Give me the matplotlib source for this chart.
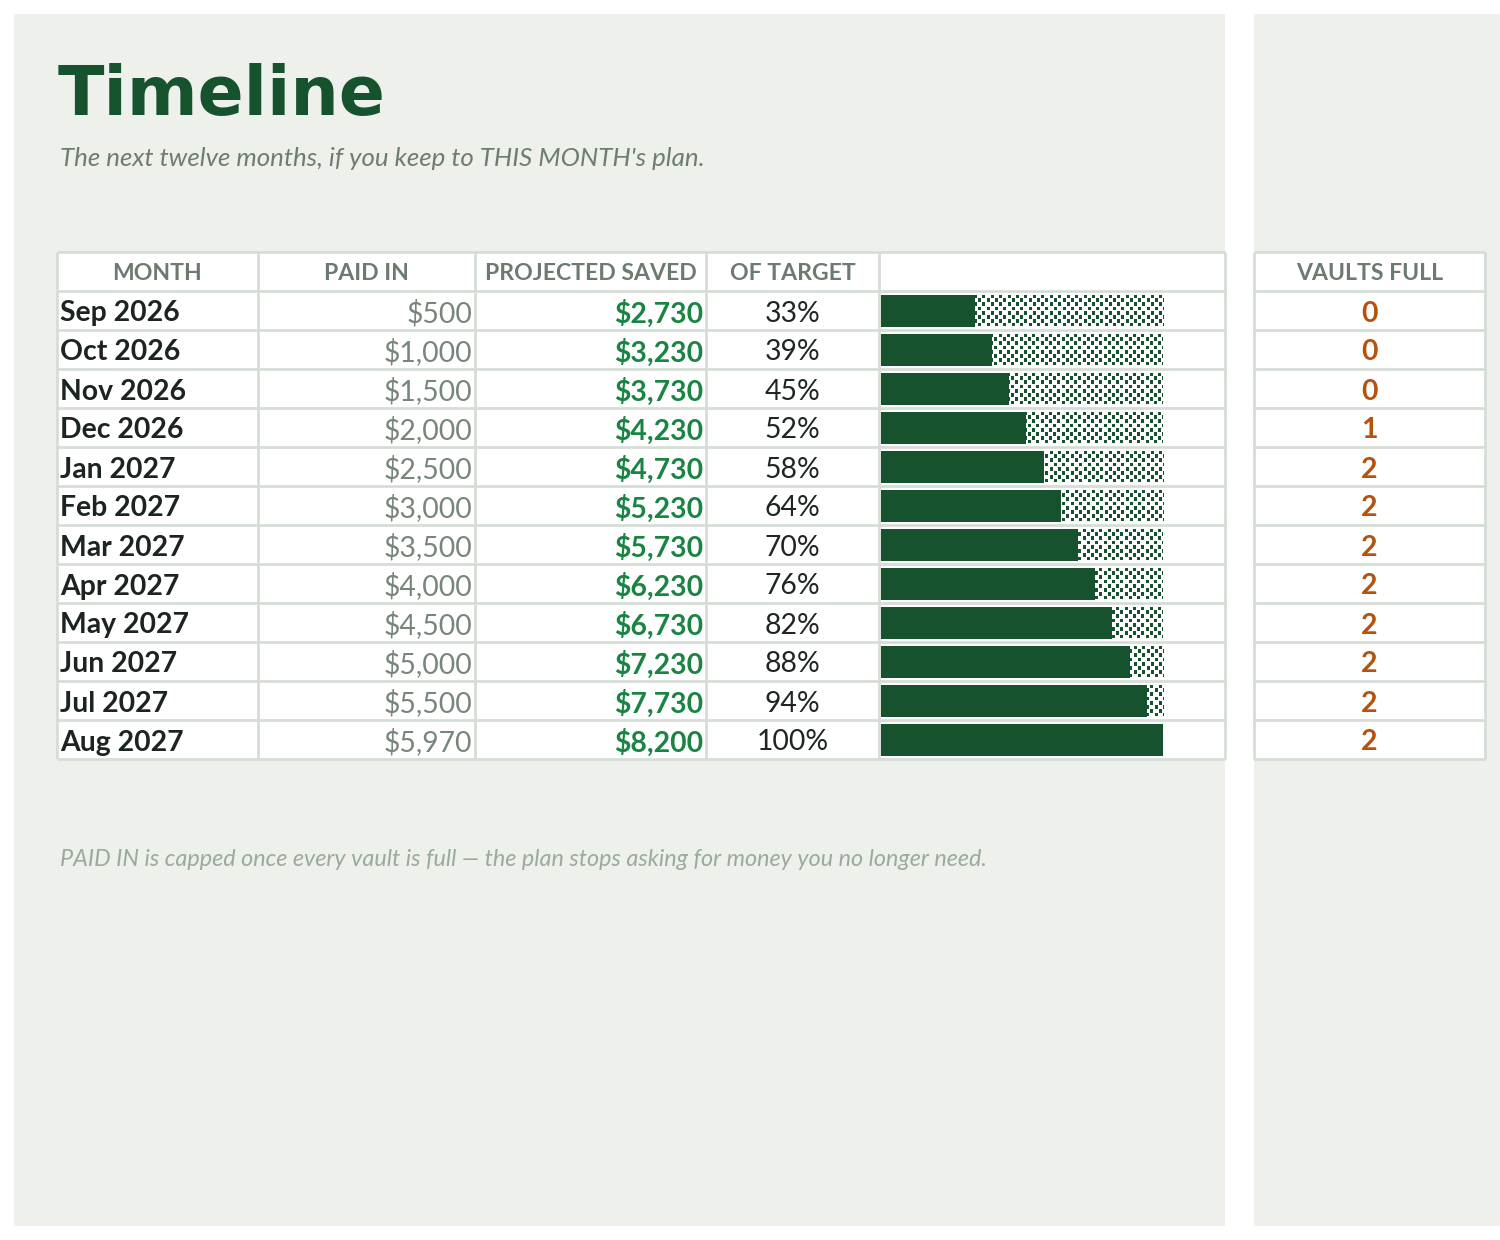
import numpy as np
import matplotlib.pyplot as plt
from matplotlib.patches import Rectangle
from matplotlib.colors import ListedColormap

months = ["Sep 2026", "Oct 2026", "Nov 2026", "Dec 2026", "Jan 2027", "Feb 2027",
          "Mar 2027", "Apr 2027", "May 2027", "Jun 2027", "Jul 2027", "Aug 2027"]
paid_in = [500, 1000, 1500, 2000, 2500, 3000, 3500, 4000, 4500, 5000, 5500, 5970]
projected = [2730, 3230, 3730, 4230, 4730, 5230, 5730, 6230, 6730, 7230, 7730, 8200]
of_target = [33, 39, 45, 52, 58, 64, 70, 76, 82, 88, 94, 100]
vaults_full = [0, 0, 0, 1, 2, 2, 2, 2, 2, 2, 2, 2]
target = 8200

headers = ["MONTH", "PAID IN", "PROJECTED SAVED", "OF TARGET", ""]

BG = "#eef0eb"
GRID = "#d6ddd6"
DARK = "#17522f"
HEAD = "#6b7b6f"

W, H = 1500, 1240
fig = plt.figure(figsize=(15, 12.4), dpi=100)
fig.patch.set_facecolor("white")
ax = fig.add_axes([0, 0, 1, 1])
ax.set_xlim(0, W)
ax.set_ylim(H, 0)
ax.axis("off")

# panels
ax.add_patch(Rectangle((14, 14), 1211, 1212, facecolor=BG, edgecolor="none"))
ax.add_patch(Rectangle((1254, 14), 246, 1212, facecolor=BG, edgecolor="none"))

ax.text(58, 96, "Timeline", fontsize=49, fontweight="bold", color=DARK,
        family="DejaVu Sans", va="center", ha="left")
ax.text(60, 159, "The next twelve months, if you keep to THIS MONTH's plan.",
        fontsize=18.6, style="italic", color="#6e7d72", family="Lato",
        va="center", ha="left")
ax.text(60, 859, "PAID IN is capped once every vault is full \u2014 the plan stops asking for money you no longer need.",
        fontsize=16.85, style="italic", color="#9aaa9f", family="Lato",
        va="center", ha="left")

# table geometry
top, head_h, row_h = 252, 39, 39
n = len(months)
bottom = top + head_h + n * row_h
cols = [57, 258, 475, 706, 879, 1225]
vcols = [1254, 1485]

ax.add_patch(Rectangle((cols[0], top), cols[-1] - cols[0], bottom - top,
                       facecolor="white", edgecolor="none"))
ax.add_patch(Rectangle((vcols[0], top), vcols[1] - vcols[0], bottom - top,
                       facecolor="white", edgecolor="none"))

ys = [top] + [top + head_h + i * row_h for i in range(n + 1)]
ax.hlines(ys, cols[0], cols[-1], color=GRID, lw=2, zorder=3)
ax.vlines(cols, top, bottom, color=GRID, lw=2, zorder=3)
ax.hlines(ys, vcols[0], vcols[1], color=GRID, lw=2, zorder=3)
ax.vlines(vcols, top, bottom, color=GRID, lw=2, zorder=3)

hy = top + head_h / 2 + 2
for i, h in enumerate(headers):
    ax.text((cols[i] + cols[i + 1]) / 2, hy, h, fontsize=16.6, fontweight="bold",
            color=HEAD, family="Lato", ha="center", va="center")
ax.text(sum(vcols) / 2, hy, "VAULTS FULL", fontsize=16.6, fontweight="bold",
        color=HEAD, family="Lato", ha="center", va="center")

for i in range(n):
    y = top + head_h + i * row_h + row_h / 2 + 3
    ax.text(60, y, months[i], fontsize=20.4, fontweight="bold", color="#1c2420",
            family="Lato", ha="left", va="center")
    ax.text(cols[2] - 3, y, f"${paid_in[i]:,}", fontsize=20.4, color="#77867b",
            family="Lato", ha="right", va="center")
    ax.text(cols[3] - 3, y, f"${projected[i]:,}", fontsize=20.4, fontweight="bold",
            color="#1a8443", family="Lato", ha="right", va="center")
    ax.text((cols[3] + cols[4]) / 2, y, f"{of_target[i]}%", fontsize=20.4,
            color="#1f2622", family="Lato", ha="center", va="center")
    ax.text(sum(vcols) / 2, y, str(vaults_full[i]), fontsize=20.4, fontweight="bold",
            color="#b5520e", family="Lato", ha="center", va="center")

# progress bars
bx0, bw = 881, 282
bax = fig.add_axes([bx0 / W, 1 - bottom / H, bw / W, (bottom - top - head_h) / H])
bax.set_xlim(0, target)
bax.set_ylim(n - 0.5, -0.5)
bax.axis("off")
bax.patch.set_alpha(0)
rows = np.arange(n)
bh = 32 / 39

# dotted texture for the unfilled part (2 samples per pixel)
yy, xx = np.indices((64, 2 * bw))
cell = 8.4
dots = ((np.floor(xx / cell) + np.floor(yy / cell)) % 2 == 0) \
    & (xx % cell < 6.0) & (yy % cell < 7.4)
dots = dots.astype(float)

rest = bax.barh(rows, [target - p for p in projected], left=projected, height=bh,
                color="white", edgecolor="none")
for r, patch in zip(rows, rest):
    if patch.get_width() <= 0:
        continue
    im = bax.imshow(dots, cmap=ListedColormap(["white", DARK]),
                    extent=(0, target, r + bh / 2, r - bh / 2), aspect="auto",
                    interpolation="nearest", zorder=2)
    im.set_clip_path(patch)
bax.barh(rows, projected, height=bh, color=DARK, edgecolor="none", zorder=3)
bax.set_xlim(0, target)
bax.set_ylim(n - 0.5, -0.5)

fig.savefig("out.png", dpi=100, facecolor="white")
